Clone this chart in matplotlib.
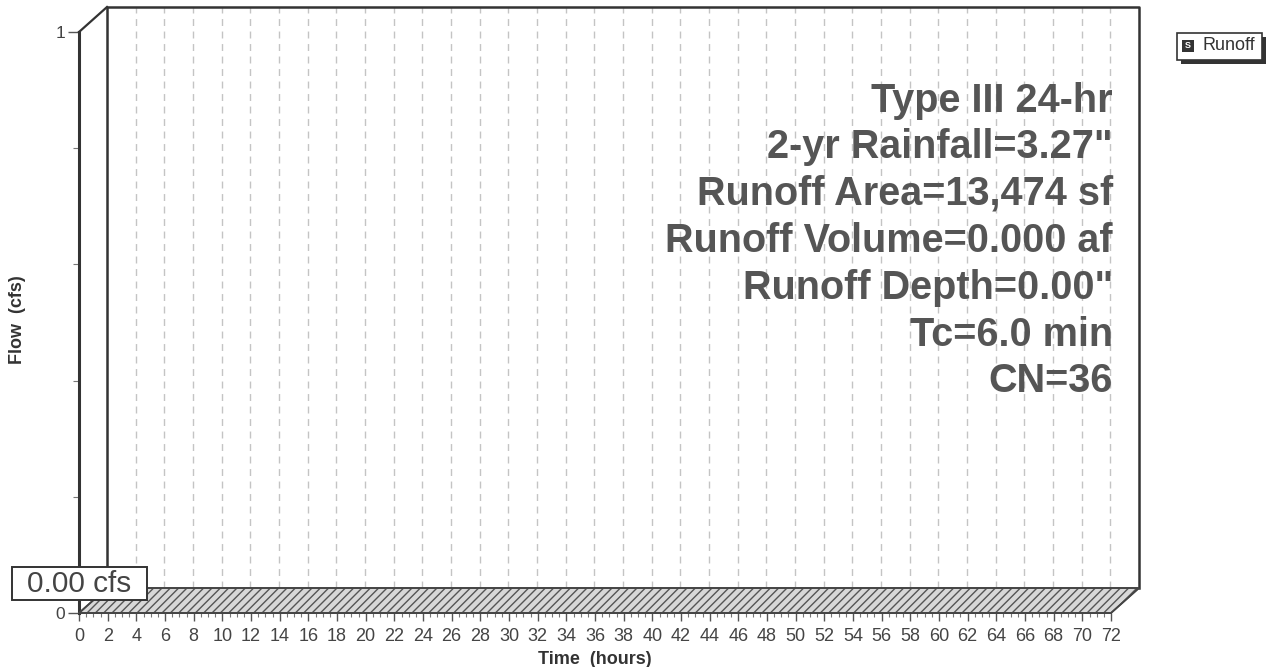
import numpy as np
import matplotlib
matplotlib.use("Agg")
import matplotlib.pyplot as plt
import matplotlib.transforms as mtransforms
from matplotlib.patches import Polygon, Rectangle

# ---- data ----
time_hours = [0, 72]
flow_cfs = [0.0, 0.0]
x_ticks = list(range(0, 73, 2))
y_ticks = [0, 1]
peak_label = "0.00 cfs"
legend_label = "Runoff"
info_lines = ["Type III 24-hr", "2-yr Rainfall=3.27\"", "Runoff Area=13,474 sf",
              "Runoff Volume=0.000 af", "Runoff Depth=0.00\"", "Tc=6.0 min", "CN=36"]

plt.rcParams['font.family'] = ['Liberation Sans', 'DejaVu Sans']

W, H = 1269, 667
fig = plt.figure(figsize=(W / 100, H / 100), dpi=100)
fig.patch.set_facecolor('white')

x0, x1 = 79, 1111
ytop, ybot = 32, 613
ax = fig.add_axes([x0 / W, (H - ybot) / H, (x1 - x0) / W, (ybot - ytop) / H])
ax.set_xlim(0, 72)
ax.set_ylim(0, 1)
ax.patch.set_alpha(0)
for s in ['top', 'right']:
    ax.spines[s].set_visible(False)
ax.spines['left'].set_linewidth(2.2)
ax.spines['left'].set_color('#333333')
ax.spines['bottom'].set_linewidth(1.2)
ax.spines['bottom'].set_color('#444444')

DX, DY = 28, 25
back = mtransforms.offset_copy(ax.transData, fig=fig, x=DX, y=DY, units='dots')

# back wall grid lines
for t in x_ticks[1:-1]:
    ax.plot([t, t], [0, 1], transform=back, color='#c4c4c4', lw=1.0,
            ls=(0, (5, 4)), clip_on=False, zorder=0)

# back wall outline
ax.plot([0, 0, 72, 72], [0, 1, 1, 0], transform=back, color='#333333', lw=1.8,
        clip_on=False, zorder=3)
# side wall top edge
p_front_top = ax.transData.transform((0, 1))
p_back_top = back.transform((0, 1))
fig.add_artist(plt.Line2D([p_front_top[0], p_back_top[0]], [p_front_top[1], p_back_top[1]],
                          transform=None, color='#333333', lw=1.6))

# floor (zero-flow series extruded) hatched
front_pts = ax.transData.transform(np.column_stack([time_hours, flow_cfs]))
back_pts = back.transform(np.column_stack([time_hours, flow_cfs]))
verts = np.vstack([front_pts, back_pts[::-1]])
floor = Polygon(verts, closed=True, transform=None, facecolor='#d8d8d8',
                edgecolor='#555555', hatch='////', lw=1.2, zorder=2)
fig.add_artist(floor)
fig.add_artist(Polygon(verts, closed=True, transform=None, facecolor='none',
                       edgecolor='#444444', lw=1.3, zorder=3))

# ticks
ax.set_xticks(x_ticks)
ax.set_xticklabels([str(t) for t in x_ticks])
ax.set_xticks(np.arange(0, 72.01, 0.5), minor=True)
ax.set_yticks(y_ticks)
ax.set_yticklabels([str(v) for v in y_ticks])
ax.set_yticks([0.2, 0.4, 0.6, 0.8], minor=True)
ax.tick_params(axis='x', which='major', length=6, width=1, color='#555555',
               labelsize=13, labelcolor='#444444', pad=5)
ax.tick_params(axis='x', which='minor', length=3, width=0.8, color='#777777')
ax.tick_params(axis='y', which='major', length=8, width=1, color='#555555',
               labelsize=12.5, labelcolor='#444444', pad=2)
ax.tick_params(axis='y', which='minor', length=4, width=0.8, color='#777777')

ax.set_xlabel("Time  (hours)", fontsize=13, fontweight='bold', color='#333333', labelpad=4)
fig.text(18 / W, 1 - 320 / H, "Flow  (cfs)", rotation=90, fontsize=13, fontweight='bold',
         color='#333333', ha='center', va='center')

# info text block
y_pos = [101, 147, 194, 241, 288, 335, 381]
for line, yp in zip(info_lines, y_pos):
    fig.text(1113 / W, 1 - yp / H, line, ha='right', va='center', fontsize=28.5,
             fontweight='bold', color='#555555')

# peak label box
fig.add_artist(Rectangle((12 / W, 1 - 600 / H), 135 / W, 33 / H, transform=fig.transFigure,
                         facecolor='white', edgecolor='#333333', lw=1.4, zorder=5))
fig.text(79.5 / W, 1 - 584 / H, peak_label, ha='center', va='center', fontsize=21.5,
         color='#444444', zorder=6)

# legend box with shadow
fig.add_artist(Rectangle((1181 / W, 1 - 64 / H), 85 / W, 27 / H, transform=fig.transFigure,
                         facecolor='#333333', edgecolor='none'))
fig.add_artist(Rectangle((1177 / W, 1 - 60 / H), 85 / W, 27 / H, transform=fig.transFigure,
                         facecolor='white', edgecolor='#333333', lw=1.2))
fig.add_artist(Rectangle((1182 / W, 1 - 52 / H), 12 / W, 12 / H, transform=fig.transFigure,
                         facecolor='#333333', edgecolor='none'))
fig.text(1188 / W, 1 - 46 / H, "S", ha='center', va='center', fontsize=6.5,
         fontweight='bold', color='white')
fig.text(1202 / W, 1 - 46 / H, legend_label, ha='left', va='center', fontsize=13,
         color='#333333')

fig.savefig("out.png", dpi=100)
